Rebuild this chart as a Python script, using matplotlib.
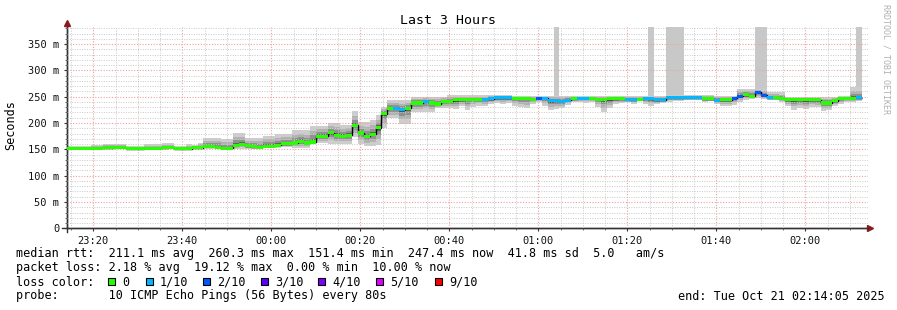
import datetime
import numpy as np
import matplotlib
matplotlib.use('Agg')
import matplotlib.pyplot as plt
import matplotlib.dates as mdates
from matplotlib.patches import Rectangle
from matplotlib.ticker import MultipleLocator, FixedLocator

W, H = 897, 310
start = datetime.datetime(2025, 10, 20, 23, 14, 5)
step_s = 80

# median rtt per 80s step (ms)
median = [
    152, 152, 152, 152, 152, 152, 153, 153, 154, 154,
    151, 151, 151, 152, 152, 152, 153, 154, 151, 151,
    151, 153, 153, 156, 156, 154, 152, 152, 158, 160,
    157, 155, 154, 156, 156, 158, 161, 161, 162, 165,
    162, 164, 175, 175, 182, 177, 175, 177, 196, 181,
    175, 179, 191, 218, 228, 228, 225, 228, 238, 238,
    241, 238, 236, 241, 241, 244, 244, 245, 245, 245,
    245, 246, 248, 248, 248, 247, 247, 247, 245, 247,
    247, 242, 242, 241, 243, 246, 247, 247, 247, 245,
    245, 246, 246, 246, 244, 244, 245, 247, 246, 244,
    244, 248, 248, 248, 248, 248, 248, 246, 246, 243,
    244, 244, 247, 251, 254, 251, 258, 253, 248, 248,
    247, 244, 244, 244, 244, 244, 244, 238, 238, 242,
    247, 247, 247, 248]

# upper / lower edge of the smoke (ms)
smoke_hi = [
    156, 156, 156, 156, 158, 158, 160, 160, 160, 160,
    157, 157, 157, 160, 160, 160, 162, 162, 157, 157,
    160, 158, 163, 172, 172, 172, 170, 170, 181, 181,
    171, 171, 171, 176, 176, 179, 179, 179, 186, 186,
    186, 195, 195, 195, 200, 200, 197, 197, 222, 202,
    202, 205, 215, 231, 243, 243, 243, 243, 250, 250,
    250, 250, 250, 250, 253, 253, 253, 253, 253, 253,
    253, 253, 253, 253, 253, 252, 252, 252, 252, 252,
    252, 252, 252, 252, 252, 251, 251, 251, 251, 252,
    252, 252, 252, 252, 252, 252, 252, 252, 252, 252,
    252, 253, 253, 253, 253, 253, 253, 253, 253, 252,
    252, 252, 252, 265, 265, 265, 265, 265, 258, 258,
    258, 250, 250, 250, 250, 250, 250, 250, 250, 250,
    252, 252, 268, 268]

smoke_lo = [
    150, 150, 150, 150, 150, 150, 150, 150, 151, 151,
    149, 149, 149, 150, 150, 150, 150, 151, 149, 149,
    149, 150, 150, 150, 150, 150, 150, 150, 150, 151,
    151, 151, 151, 152, 153, 153, 154, 154, 153, 153,
    153, 162, 162, 162, 160, 160, 160, 160, 173, 160,
    156, 156, 158, 190, 209, 209, 198, 198, 221, 221,
    221, 221, 228, 228, 228, 226, 232, 225, 230, 233,
    232, 236, 238, 236, 238, 232, 230, 228, 237, 240,
    232, 225, 227, 228, 235, 240, 240, 238, 240, 230,
    221, 228, 236, 238, 240, 237, 242, 236, 233, 236,
    238, 240, 242, 242, 243, 243, 243, 240, 241, 236,
    232, 232, 235, 240, 244, 246, 248, 246, 244, 243,
    240, 232, 225, 228, 226, 231, 230, 222, 224, 232,
    236, 240, 240, 242]

# lost pings out of 10 per step
loss = [
    0, 0, 0, 0, 0, 0, 0, 0, 0, 0,
    0, 0, 0, 0, 0, 0, 0, 0, 0, 0,
    0, 0, 0, 0, 0, 0, 0, 0, 0, 0,
    0, 0, 0, 0, 0, 0, 0, 0, 0, 0,
    0, 0, 0, 0, 0, 0, 0, 0, 0, 0,
    0, 0, 0, 0, 0, 1, 1, 0, 0, 0,
    1, 0, 0, 0, 0, 0, 0, 0, 0, 0,
    1, 1, 1, 1, 1, 0, 0, 0, 0, 2,
    1, 1, 1, 1, 1, 0, 1, 1, 0, 0,
    0, 0, 0, 0, 1, 1, 0, 1, 1, 1,
    1, 1, 1, 1, 1, 1, 1, 0, 0, 1,
    0, 0, 2, 2, 0, 0, 2, 2, 1, 0,
    0, 0, 0, 0, 0, 0, 0, 0, 0, 0,
    0, 0, 0, 1]

# steps where the slowest ping went off the chart
spike_idx = [82, 98, 101, 102, 103, 116, 117, 133]
spike_top = [420, 420, 420, 420, 420, 420, 420, 420]

y_ticks = [0, 50, 100, 150, 200, 250, 300, 350]
y_tick_labels = ['0', '50 m', '100 m', '150 m', '200 m', '250 m', '300 m', '350 m']
x_tick_labels = ['23:20', '23:40', '00:00', '00:20', '00:40', '01:00', '01:20', '01:40', '02:00']

loss_levels = [0, 1, 2, 3, 4, 5, 9]
loss_names = ['0', '1/10', '2/10', '3/10', '4/10', '5/10', '9/10']
loss_colors = ['#26ff00', '#00b8ff', '#0059ff', '#5e00ff', '#7e00ff', '#dd00ff', '#ff0000']

plt.rcParams['font.family'] = ['DejaVu Sans Mono']

fig = plt.figure(figsize=(W / 100, H / 100), dpi=100)
ax = fig.add_axes([67 / W, 1 - 228.3 / H, 801 / W, (228.3 - 26.7) / H])

n = len(median)
edges = mdates.date2num([start + datetime.timedelta(seconds=step_s * i) for i in range(n + 1)])
step_d = edges[1] - edges[0]
med = np.array(median, float)
hi = np.array(smoke_hi, float)
lo = np.array(smoke_lo, float)

# smoke, lighter outside, darker near the median
for f, c in [(1.0, '#cdcdcd'), (0.65, '#b2b2b2'), (0.4, '#909090'), (0.18, '#626262')]:
    ax.stairs(med + f * (hi - med), edges, baseline=med - f * (med - lo),
              fill=True, color=c, lw=0, zorder=1)

si = np.array(spike_idx)
ax.bar(edges[si], np.array(spike_top) - hi[si], bottom=hi[si], width=step_d,
       align='edge', color='#c8c8c8', lw=0, zorder=1)

# median line coloured by loss
ax.stairs(med, edges, baseline=None, color='black', lw=1, zorder=4)
cmap = dict(zip(loss_levels, loss_colors))
dh = 3.0
ax.bar(edges[:-1], 2 * dh, bottom=med - dh, width=step_d, align='edge',
       color=[cmap[l] for l in loss], lw=0, zorder=5, antialiased=False)

ax.set_xlim(mdates.date2num(start), mdates.date2num(start + datetime.timedelta(hours=3)))
ax.set_ylim(0, 383)

x_ticks = []
for lab in x_tick_labels:
    hh, mm = int(lab[:2]), int(lab[3:])
    day = 20 if hh >= 12 else 21
    x_ticks.append(mdates.date2num(datetime.datetime(2025, 10, day, hh, mm)))
ax.xaxis.set_major_locator(FixedLocator(x_ticks))
ax.set_xticklabels(x_tick_labels)
ax.xaxis.set_minor_locator(mdates.MinuteLocator(byminute=range(0, 60, 5)))
ax.yaxis.set_major_locator(FixedLocator(y_ticks))
ax.set_yticklabels(y_tick_labels)
ax.yaxis.set_minor_locator(MultipleLocator(10))

ax.set_axisbelow(False)
ax.grid(which='minor', color='#c8c8c8', ls=(0, (1, 1.5)), lw=0.7)
ax.grid(which='major', color='#f0a0a0', ls=(0, (1, 1.5)), lw=0.8)

ax.tick_params(which='major', direction='out', length=2.5, color='#333333',
               labelsize=7.5, pad=3, labelcolor='#111111')
ax.tick_params(which='minor', direction='out', length=1.5, width=0.6, color='#555555')
for s in ['top', 'right']:
    ax.spines[s].set_visible(False)
for s in ['left', 'bottom']:
    ax.spines[s].set_color('#333333')
    ax.spines[s].set_linewidth(1)

# axis lines run a little past the corner, with arrow heads
ax.plot([0, 0], [-0.02, 1.02], transform=ax.transAxes, color='#333333', lw=1, clip_on=False)
ax.plot([-0.006, 1.003], [0, 0], transform=ax.transAxes, color='#333333', lw=1, clip_on=False)
ax.plot([0], [1.02], marker='^', ms=4, color='#8b1a1a', transform=ax.transAxes, clip_on=False)
ax.plot([1.003], [0], marker='>', ms=4, color='#8b1a1a', transform=ax.transAxes, clip_on=False)

fig.text(448 / W, 1 - 20 / H, 'Last 3 Hours', ha='center', va='center', fontsize=9.5)
fig.text(11 / W, 1 - 125 / H, 'Seconds', rotation=90, ha='center', va='center', fontsize=8.5)
fig.text(886 / W, 1 - 4 / H, 'RRDTOOL / TOBI OETIKER', rotation=270, ha='center', va='top',
         fontsize=6, color='#b0b0b0')

fs = 8.5
fig.text(16 / W, 1 - 254 / H,
         'median rtt:  211.1 ms avg  260.3 ms max  151.4 ms min  247.4 ms now  41.8 ms sd  5.0   am/s',
         va='center', fontsize=fs)
fig.text(16 / W, 1 - 268 / H,
         'packet loss: 2.18 % avg  19.12 % max  0.00 % min  10.00 % now',
         va='center', fontsize=fs)
fig.text(16 / W, 1 - 282 / H, 'loss color:', va='center', fontsize=fs)
box_x = [108, 146, 203, 261, 318, 376, 435]
for bx, name, c in zip(box_x, loss_names, loss_colors):
    fig.add_artist(Rectangle((bx / W, 1 - 285 / H), 7 / W, 7 / H, transform=fig.transFigure,
                             facecolor=c, edgecolor='black', lw=0.8))
    fig.text((bx + 14) / W, 1 - 282 / H, name, va='center', fontsize=fs)
fig.text(16 / W, 1 - 296 / H, 'probe:       10 ICMP Echo Pings (56 Bytes) every 80s',
         va='center', fontsize=fs)
fig.text(678 / W, 1 - 296 / H, 'end: Tue Oct 21 02:14:05 2025', va='center', fontsize=fs)

fig.savefig('out.png', dpi=100)
